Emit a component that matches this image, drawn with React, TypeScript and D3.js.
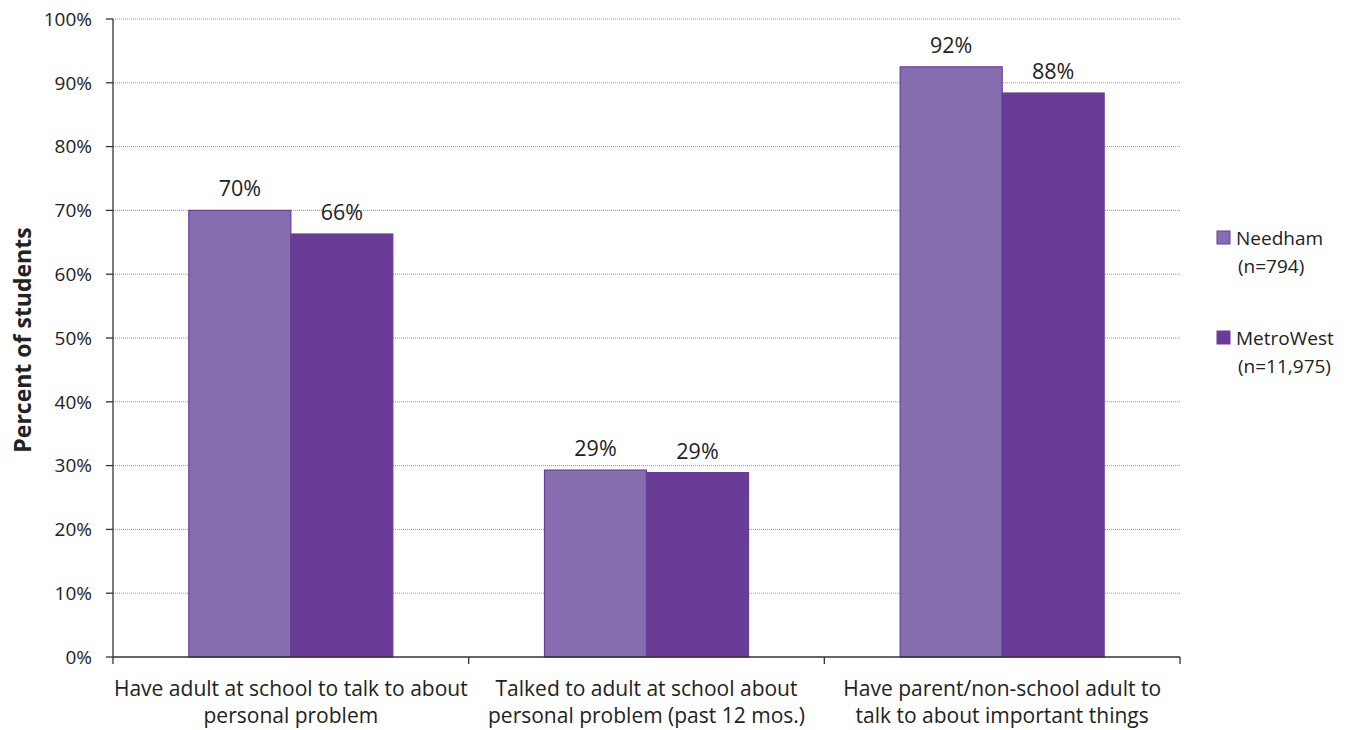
import React from "react";
import * as d3 from "d3";

const categories = [
  ["Have adult at school to talk to about", "personal problem"],
  ["Talked to adult at school about", "personal problem (past 12 mos.)"],
  ["Have parent/non-school adult to", "talk to about important things"],
];
const seriesNames = ["Needham", "MetroWest"];
const seriesSub = ["(n=794)", "(n=11,975)"];
const needham = [70, 29.3, 92.5];
const metroWest = [66.3, 28.9, 88.4];
const labelsNeedham = ["70%", "29%", "92%"];
const labelsMetro = ["66%", "29%", "88%"];
const yTicks = [0, 10, 20, 30, 40, 50, 60, 70, 80, 90, 100];

const colors = ["#866DB0", "#693C97"];
const font = "'Open Sans', 'Noto Sans', sans-serif";

export default function App() {
  const W = 1351, H = 730;
  const left = 113, right = 1180, top = 19, bottom = 657;
  const y = d3.scaleLinear().domain([0, 100]).range([bottom, top]);
  const x0 = d3.scaleBand<number>().domain([0, 1, 2]).range([left, right]).paddingInner(0).paddingOuter(0);
  const bw = x0.bandwidth();
  const barW = 102;
  const series = [needham, metroWest];
  const labels = [labelsNeedham, labelsMetro];
  const xb = (i: number) => [left, ...categories.map((_, k) => (x0(k) as number) + bw)][i];

  return (
    <svg width={W} height={H} style={{ position: "absolute", left: 0, top: 0, background: "#fff" }}>
      <rect x={0} y={0} width={W} height={H} fill="#fff" />
      {yTicks.map((t) => (
        <g key={t}>
          {t > 0 && (
            <line x1={left} x2={right} y1={y(t)} y2={y(t)} stroke="#9a9a9a" strokeWidth={1} strokeDasharray="1,1" />
          )}
          <line x1={left - 7} x2={left} y1={y(t)} y2={y(t)} stroke="#333" strokeWidth={1.3} />
          <text x={92} y={y(t)} dy="0.36em" textAnchor="end" fontFamily={font} fontSize={19} fill="#222">
            {t}%
          </text>
        </g>
      ))}
      {series.map((vals, s) =>
        vals.map((v, i) => {
          const cx = (x0(i) as number) + bw / 2;
          const bx = cx - barW + s * barW;
          return (
            <g key={`${s}-${i}`}>
              <rect x={bx} y={y(v)} width={barW} height={bottom - y(v)} fill={colors[s]} stroke="#6A3D9A" strokeWidth={1.2} />
              <text x={bx + barW / 2} y={y(v) - 14} textAnchor="middle" fontFamily={font} fontSize={21.5} fill="#222">
                {labels[s][i]}
              </text>
            </g>
          );
        })
      )}
      <line x1={left} x2={left} y1={top} y2={bottom} stroke="#333" strokeWidth={1.3} />
      <line x1={left} x2={right} y1={bottom} y2={bottom} stroke="#333" strokeWidth={1.3} />
      {[0, 1, 2, 3].map((i) => (
        <line key={i} x1={xb(i)} x2={xb(i)} y1={bottom} y2={bottom + 7} stroke="#333" strokeWidth={1.3} />
      ))}
      {categories.map((lines, i) => (
        <text key={i} textAnchor="middle" fontFamily={font} fontSize={21} fill="#222">
          {lines.map((l, j) => (
            <tspan key={j} x={(x0(i) as number) + bw / 2} y={696 + j * 27}>
              {l}
            </tspan>
          ))}
        </text>
      ))}
      <text
        transform={`translate(31, 340) rotate(-90)`}
        textAnchor="middle"
        fontFamily={font}
        fontSize={23}
        fontWeight="bold"
        fill="#222"
      >
        Percent of students
      </text>
      {seriesNames.map((n, s) => (
        <g key={n} transform={`translate(1217, ${231 + s * 100})`}>
          <rect x={0} y={0} width={13} height={13} fill={colors[s]} stroke="#6A3D9A" strokeWidth={1} />
          <text x={19} y={14} fontFamily={font} fontSize={19} fill="#222">
            {n}
          </text>
          <text x={21} y={42} fontFamily={font} fontSize={19} fill="#222">
            {seriesSub[s]}
          </text>
        </g>
      ))}
    </svg>
  );
}
